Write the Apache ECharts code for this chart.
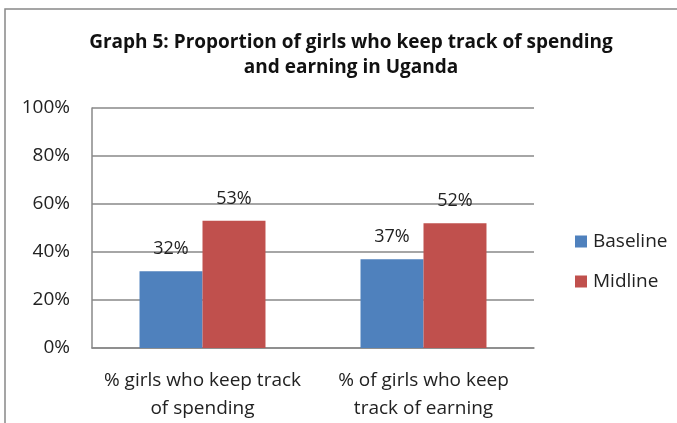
<!DOCTYPE html>
<html>
<head>
<meta charset="utf-8">
<script src="https://cdn.jsdelivr.net/npm/echarts@6/dist/echarts.min.js"></script>
<style>
  html, body { margin: 0; padding: 0; background: #fff; }
  #chart { width: 677px; height: 423px; }
</style>
</head>
<body>
<div id="chart"></div>
<script>
  var categories = ['% girls who keep track\nof spending', '% of girls who keep\ntrack of earning']
  var baseline = [32, 37]
  var midline = [53, 52]
  var yTicks = [0, 20, 40, 60, 80, 100]

  var font = '"Open Sans", sans-serif'
  var chart = echarts.init(document.getElementById('chart'))

  var barLabel = {
    show: true,
    position: 'top',
    distance: 13,
    color: '#222',
    fontFamily: font,
    fontSize: 18,
    formatter: function (p) { return p.value + '%' }
  }

  chart.setOption({
    animation: false,
    title: {
      text: 'Graph 5: Proportion of girls who keep track of spending\nand earning in Uganda',
      left: 346,
      top: 25,
      textAlign: 'center',
      textStyle: {
        fontFamily: font,
        fontSize: 19,
        fontWeight: 'bold',
        color: '#111',
        lineHeight: 25
      }
    },
    graphic: [{
      type: 'rect',
      shape: { x: 5, y: 9, width: 700, height: 450 },
      style: { fill: 'none', stroke: '#888', lineWidth: 1.5 },
      silent: true
    }],
    legend: {
      orient: 'vertical',
      left: 570,
      top: 227,
      itemWidth: 12,
      itemHeight: 12,
      itemGap: 21,
      icon: 'rect',
      textStyle: { fontFamily: font, fontSize: 19, color: '#222', padding: [0, 0, 0, 1] },
      data: ['Baseline', 'Midline']
    },
    grid: { left: 92, right: 143, top: 108, bottom: 74 },
    xAxis: {
      type: 'category',
      data: categories,
      axisLine: { lineStyle: { color: '#888', width: 1.5 } },
      axisTick: { show: false },
      axisLabel: {
        interval: 0,
        color: '#222',
        fontFamily: font,
        fontSize: 19,
        lineHeight: 28,
        margin: 19
      }
    },
    yAxis: {
      type: 'value',
      min: yTicks[0],
      max: yTicks[yTicks.length - 1],
      interval: 20,
      axisLine: { show: true, lineStyle: { color: '#888', width: 1.5 } },
      axisTick: { show: false },
      splitLine: { lineStyle: { color: '#888', width: 1.5 } },
      axisLabel: {
        color: '#222',
        fontFamily: font,
        fontSize: 19,
        margin: 22,
        formatter: '{value}%'
      }
    },
    series: [
      {
        name: 'Baseline',
        type: 'bar',
        barGap: '0%',
        barCategoryGap: '43%',
        itemStyle: { color: '#4f81bd' },
        label: barLabel,
        data: baseline
      },
      {
        name: 'Midline',
        type: 'bar',
        itemStyle: { color: '#c0504d' },
        label: barLabel,
        data: midline
      }
    ]
  })
</script>
</body>
</html>
